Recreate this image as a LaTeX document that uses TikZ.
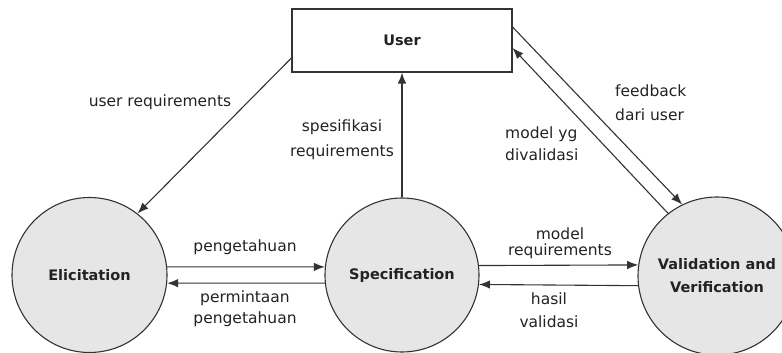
\documentclass[tikz,border=0pt]{standalone}
\usepackage{fontspec}
\setmainfont{DejaVu Sans}
\usetikzlibrary{arrows.meta}
\definecolor{edge}{HTML}{333333}
\definecolor{bubble}{HTML}{E6E6E6}
\definecolor{ink}{HTML}{222222}
\begin{document}
\begin{tikzpicture}[x=1pt,y=-1pt,
  process/.style={circle,draw=edge,line width=1.1pt,fill=bubble,inner sep=0pt,
    text=ink,font=\bfseries\fontsize{14.5}{23}\selectfont,align=center},
  actor/.style={rectangle,draw=edge,line width=1.1pt,fill=white,inner sep=0pt,
    text=ink,font=\bfseries\fontsize{14.5}{18}\selectfont},
  flow/.style={draw=edge,line width=1.1pt,-{Latex[length=11pt,width=8.5pt]}},
  lbl/.style={text=ink,inner sep=0pt,align=center,font=\fontsize{15.5}{22}\selectfont},
  lbll/.style={lbl,align=left}]
  \useasboundingbox (0,0) rectangle (782,353);

  % actors and processes
  \node[actor,minimum width=220pt,minimum height=63pt] (user) at (402,40.5) {User};
  \node[process,minimum size=155pt] (elic) at (89.5,275) {Elicitation};
  \node[process,minimum size=154pt] (spec) at (402,275) {Specification};
  \node[process,minimum size=158pt] (vv) at (717,276) {Validation and\\[0pt]Verification};

  % flows
  \draw[flow] ([yshift=-17.5pt]user.west) -- (elic.52);
  \draw[flow] (spec.north) -- (user.south);
  \draw[flow] ([yshift=13.5pt]user.east) -- (vv.116.5);
  \draw[flow] (vv.128.5) -- ([yshift=-7.5pt]user.east);
  \draw[flow] (elic.6) -- (spec.174);
  \draw[flow] (spec.186.5) -- (elic.-6.5);
  \draw[flow] (spec.7.5) -- (vv.172.5);
  \draw[flow] (vv.187.5) -- (spec.-7.5);

  % flow labels
  \node[lbl] (lur) at (160,102) {user requirements};
  \node[lbl,font=\fontsize{15.5}{25}\selectfont] (lsr) at (342,140) {spesifikasi\\requirements};
  \node[lbll,font=\fontsize{15.5}{24}\selectfont,anchor=west] (lfb) at (615,103) {feedback\\dari user};
  \node[lbll,anchor=west] (lmv) at (505,144) {model yg\\divalidasi};
  \node[lbl] (lpg) at (245,247) {pengetahuan};
  \node[lbl,font=\fontsize{15.5}{21}\selectfont] (lpp) at (245,308.5) {permintaan\\pengetahuan};
  \node[lbl,font=\fontsize{15.5}{16}\selectfont] (lmr) at (560,243) {model\\requirements};
  \node[lbl,font=\fontsize{15.5}{23}\selectfont] (lhv) at (549,310) {hasil\\validasi};
\end{tikzpicture}
\end{document}
